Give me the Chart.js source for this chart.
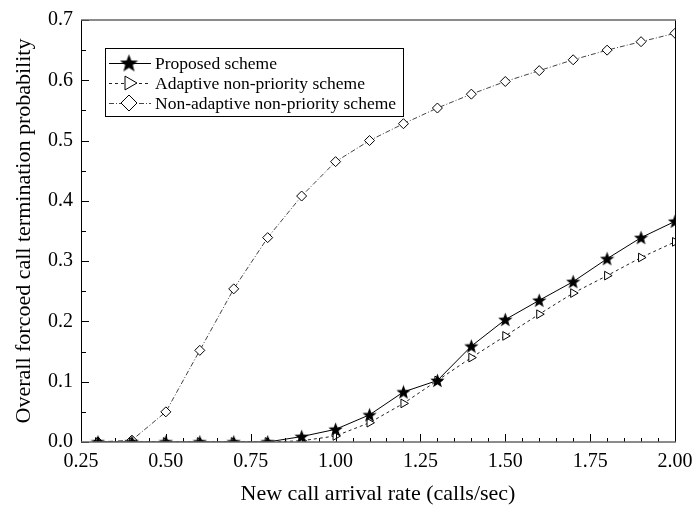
<!DOCTYPE html>
<html>
<head>
<meta charset="utf-8">
<script src="https://cdn.jsdelivr.net/npm/chart.js@4/dist/chart.umd.min.js"></script>
<style>
  html, body { margin: 0; padding: 0; background: #fff; }
  #wrap { width: 694px; height: 512px; }
</style>
</head>
<body>
<div id="wrap"><canvas id="chart" width="694" height="512"></canvas></div>
<script>
// values
const rate        = [0.3, 0.4, 0.5, 0.6, 0.7, 0.8, 0.9, 1.0, 1.1, 1.2, 1.3, 1.4, 1.5, 1.6, 1.7, 1.8, 1.9, 2.0];
const proposed    = [0, 0, 0, 0, 0, 0, 0.009, 0.021, 0.045, 0.083, 0.102, 0.159, 0.203, 0.235, 0.266, 0.304, 0.339, 0.366];
const adaptive    = [0, 0, 0, 0, 0, 0, 0.002, 0.010, 0.032, 0.064, 0.102, 0.140, 0.176, 0.212, 0.247, 0.276, 0.306, 0.332];
const nonAdaptive = [0, 0.003, 0.050, 0.152, 0.254, 0.339, 0.408, 0.465, 0.500, 0.528, 0.554, 0.577, 0.598, 0.616, 0.634, 0.650, 0.664, 0.678];

const seriesNames = ['Proposed scheme', 'Adaptive non-priority scheme', 'Non-adaptive non-priority scheme'];
const xTicks = [0.25, 0.50, 0.75, 1.00, 1.25, 1.50, 1.75, 2.00];
const yTicks = [0.0, 0.1, 0.2, 0.3, 0.4, 0.5, 0.6, 0.7];

const FONT = '"Liberation Serif", "Times New Roman", serif';

function makeStar(size) {
  const c = document.createElement('canvas');
  c.width = size; c.height = size;
  const g = c.getContext('2d');
  const cx = size / 2, cy = size / 2 + size * 0.04;
  const ro = size / 2, ri = ro * 0.42;
  g.beginPath();
  for (let i = 0; i < 10; i++) {
    const r = i % 2 ? ri : ro;
    const a = -Math.PI / 2 + i * Math.PI / 5;
    g.lineTo(cx + r * Math.cos(a), cy + r * Math.sin(a));
  }
  g.closePath();
  g.fillStyle = '#000';
  g.fill();
  return c;
}
const starSmall = makeStar(15);
const starBig   = makeStar(19);

const pts = arr => arr.map((v, i) => ({ x: rate[i], y: v }));

const styles = [
  { dash: [],           color: '#000', point: starSmall, radius: 7, rotation: 0,  legendPoint: starBig },
  { dash: [3, 3],       color: '#222', point: 'triangle', radius: 5, rotation: 90 },
  { dash: [5, 2, 1, 2], color: '#444', point: 'rectRot',  radius: 5, rotation: 0 }
];

const frameTicks = {
  id: 'frameTicks',
  afterDraw(chart) {
    const { ctx, chartArea: a, scales: { x, y } } = chart;
    ctx.save();
    ctx.strokeStyle = '#000';
    ctx.lineWidth = 1;
    ctx.beginPath();
    for (let v = 0.25; v <= 2.0001; v += 0.05) {
      const px = Math.round(x.getPixelForValue(v)) + 0.5;
      const major = Math.abs((v / 0.25) - Math.round(v / 0.25)) < 1e-6;
      ctx.moveTo(px, a.bottom);
      ctx.lineTo(px, a.bottom - (major ? 8 : 4));
    }
    for (let v = 0; v <= 0.7001; v += 0.05) {
      const py = Math.round(y.getPixelForValue(v)) + 0.5;
      const major = Math.abs((v / 0.1) - Math.round(v / 0.1)) < 1e-6;
      ctx.moveTo(a.left, py);
      ctx.lineTo(a.left + (major ? 8 : 5), py);
    }
    ctx.stroke();

    ctx.beginPath();
    ctx.moveTo(Math.round(a.left) + 0.5, a.top);
    ctx.lineTo(Math.round(a.left) + 0.5, a.bottom);
    ctx.moveTo(Math.round(a.right) + 0.5, a.top);
    ctx.lineTo(Math.round(a.right) + 0.5, a.bottom);
    ctx.stroke();
    ctx.strokeStyle = '#666';
    ctx.lineWidth = 1.5;
    ctx.beginPath();
    ctx.moveTo(a.left, a.top);
    ctx.lineTo(a.right + 1, a.top);
    ctx.moveTo(a.left, a.bottom);
    ctx.lineTo(a.right + 1, a.bottom);
    ctx.stroke();
    ctx.restore();
  }
};

const boxLegend = {
  id: 'boxLegend',
  afterDraw(chart) {
    const ctx = chart.ctx;
    const bx = 105, by = 48, bw = 298, bh = 68;
    ctx.save();
    ctx.fillStyle = '#fff';
    ctx.fillRect(bx, by, bw, bh);
    ctx.strokeStyle = '#000';
    ctx.lineWidth = 1;
    ctx.strokeRect(bx + 0.5, by + 0.5, bw, bh);
    ctx.font = '17.5px ' + FONT;
    ctx.textBaseline = 'middle';
    chart.data.datasets.forEach((ds, i) => {
      const s = styles[i];
      const ly = by + 15 + i * 20;
      ctx.strokeStyle = s.color;
      ctx.setLineDash(s.dash);
      ctx.beginPath();
      ctx.moveTo(bx + 4, ly + 0.5);
      ctx.lineTo(bx + 46, ly + 0.5);
      ctx.stroke();
      ctx.setLineDash([]);
      const mx = bx + 24;
      if (s.legendPoint) {
        ctx.drawImage(s.legendPoint, mx - s.legendPoint.width / 2, ly - s.legendPoint.height / 2);
      } else {
        ctx.fillStyle = '#fff';
        ctx.strokeStyle = '#000';
        ctx.lineWidth = 1;
        Chart.helpers.drawPoint(ctx, { pointStyle: s.point, radius: 8, rotation: s.rotation, borderWidth: 1 }, mx, ly);
      }
      ctx.fillStyle = '#000';
      ctx.fillText(ds.label, bx + 50, ly + 1);
    });
    ctx.restore();
  }
};

const datasets = [proposed, adaptive, nonAdaptive].map((arr, i) => ({
  label: seriesNames[i],
  data: pts(arr),
  borderColor: styles[i].color,
  borderWidth: 1,
  borderDash: styles[i].dash,
  pointStyle: styles[i].point,
  pointRadius: styles[i].radius,
  pointRotation: styles[i].rotation,
  pointBackgroundColor: '#fff',
  pointBorderColor: '#000',
  pointBorderWidth: 1,
  tension: 0,
  fill: false
}));

new Chart(document.getElementById('chart'), {
  type: 'line',
  data: { datasets },
  options: {
    responsive: false,
    animation: false,
    events: [],
    layout: { padding: { top: 20, right: 19, left: 0, bottom: 0 } },
    plugins: { legend: { display: false }, tooltip: { enabled: false } },
    scales: {
      x: {
        type: 'linear',
        min: 0.25,
        max: 2.0,
        afterBuildTicks: s => { s.ticks = xTicks.map(v => ({ value: v })); },
        afterFit: s => { s.height = 70; s.paddingLeft = 0; s.paddingRight = 0; },
        grid: { display: false, drawTicks: false },
        border: { display: false },
        ticks: {
          padding: 8,
          color: '#000',
          font: { family: FONT, size: 20 },
          callback: v => v.toFixed(2)
        },
        title: {
          display: true,
          text: 'New call arrival rate (calls/sec)',
          color: '#000',
          font: { family: FONT, size: 22 },
          padding: { top: 0, bottom: 5 }
        }
      },
      y: {
        min: 0,
        max: 0.7,
        afterBuildTicks: s => { s.ticks = yTicks.map(v => ({ value: v })); },
        afterFit: s => { s.width = 81; s.paddingTop = 0; s.paddingBottom = 0; },
        grid: { display: false, drawTicks: false },
        border: { display: false },
        ticks: {
          padding: 8,
          color: '#000',
          font: { family: FONT, size: 20 },
          callback: v => v.toFixed(1)
        },
        title: {
          display: true,
          text: 'Overall forcoed call termination probability',
          color: '#000',
          font: { family: FONT, size: 22 },
          padding: { top: 11, bottom: 0 }
        }
      }
    }
  },
  plugins: [frameTicks, boxLegend]
});
</script>
</body>
</html>
